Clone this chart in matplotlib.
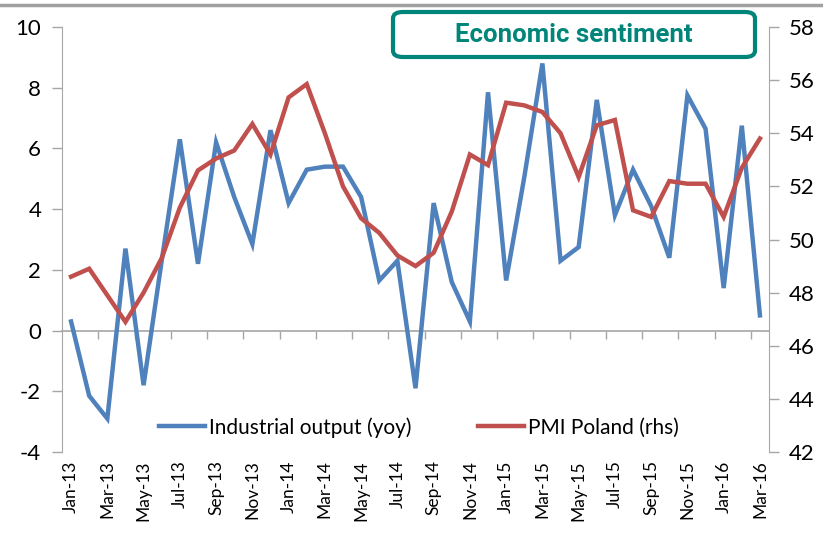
import matplotlib.pyplot as plt
from matplotlib.patches import FancyBboxPatch
from matplotlib.lines import Line2D

# ================================
# Data
# ================================
months = [
    "Jan-13", "Feb-13", "Mar-13", "Apr-13", "May-13", "Jun-13", "Jul-13", "Aug-13",
    "Sep-13", "Oct-13", "Nov-13", "Dec-13", "Jan-14", "Feb-14", "Mar-14", "Apr-14",
    "May-14", "Jun-14", "Jul-14", "Aug-14", "Sep-14", "Oct-14", "Nov-14", "Dec-14",
    "Jan-15", "Feb-15", "Mar-15", "Apr-15", "May-15", "Jun-15", "Jul-15", "Aug-15",
    "Sep-15", "Oct-15", "Nov-15", "Dec-15", "Jan-16", "Feb-16", "Mar-16",
]

industrial_output = [
    0.3, -2.15, -2.9, 2.7, -1.8, 2.3, 6.3, 2.2, 6.2, 4.4, 2.85, 6.6,
    4.2, 5.3, 5.4, 5.4, 4.4, 1.65, 2.3, -1.9, 4.2, 1.6, 0.3, 7.85,
    1.65, 5.05, 8.8, 2.3, 2.75, 7.6, 3.8, 5.3, 4.1, 2.4, 7.75, 6.65,
    1.4, 6.75, 0.5,
]

pmi_poland = [
    48.6, 48.9, 47.9, 46.9, 48.0, 49.3, 51.2, 52.6, 53.05, 53.35, 54.35, 53.2,
    55.35, 55.85, 54.0, 52.0, 50.8, 50.25, 49.4, 49.0, 49.5, 51.05, 53.2, 52.8,
    55.15, 55.05, 54.8, 54.0, 52.35, 54.3, 54.5, 51.1, 50.85, 52.2, 52.1, 52.1,
    50.85, 52.7, 53.8,
]

BLUE = "#4F81BD"
RED = "#C0504D"
GRAY = "#A6A6A6"
TEAL = "#00857A"

plt.rcParams["font.family"] = ["Lato", "DejaVu Sans"]
plt.rcParams["axes.unicode_minus"] = False

fig = plt.figure(figsize=(8.23, 5.33), dpi=100)
ax = fig.add_axes([62 / 823, 1 - 452 / 533, (769 - 62) / 823, (452 - 27) / 533])
ax2 = ax.twinx()

x = list(range(len(months)))
ax.plot(x, industrial_output, color=BLUE, linewidth=3.2, label="Industrial output (yoy)",
        solid_joinstyle="miter", zorder=3)
ax2.plot(x, pmi_poland, color=RED, linewidth=3.2, label="PMI Poland (rhs)",
         solid_joinstyle="miter", zorder=3)

ymin, ymax = -4, 10
ax.set_xlim(-0.5, len(months) - 0.5)
ax.set_ylim(ymin, ymax)
ax2.set_ylim(42, 58)
ax.set_yticks(range(-4, 11, 2))
ax2.set_yticks(range(42, 59, 2))

for a in (ax, ax2):
    a.spines["top"].set_visible(False)
    a.spines["bottom"].set_visible(False)
    a.spines["left"].set_color(GRAY)
    a.spines["right"].set_color(GRAY)
ax.spines["right"].set_visible(False)
ax2.spines["left"].set_visible(False)

ax.tick_params(axis="y", length=7, width=1, color=GRAY, labelsize=16, pad=8)
ax2.tick_params(axis="y", length=7, width=1, color=GRAY, labelsize=16, pad=7)

# category labels at the bottom, every second month
ax.set_xticks(x[::2], months[::2])
ax.tick_params(axis="x", length=0, labelsize=12.5, rotation=90, pad=6)

# category axis crossing at zero, tick marks every two months
zero_pos = (0 - ymin) / (ymax - ymin)
sec = ax.secondary_xaxis(zero_pos)
sec.set_xticks([i - 0.5 for i in x[::2]][1:], [])
sec.tick_params(axis="x", length=6, width=1, color=GRAY)
sec.spines["bottom"].set_color(GRAY)
sec.spines["bottom"].set_linewidth(1.2)

# legend
h1, l1 = ax.get_legend_handles_labels()
h2, l2 = ax2.get_legend_handles_labels()
ax2.legend(h1 + h2, l1 + l2, loc="center", bbox_to_anchor=(0.505, 0.058), ncol=2,
           frameon=False, fontsize=15, handlelength=2.2, handletextpad=0.2,
           columnspacing=3.2)

# top rule
fig.add_artist(Line2D([0, 1], [1 - 5 / 533, 1 - 5 / 533], transform=fig.transFigure,
                      color="#A0A0A0", linewidth=2.5))

# title box
box = FancyBboxPatch((393 / 823, 1 - 57 / 533), (755 - 393) / 823, (57 - 12) / 533,
                     boxstyle="round,pad=0,rounding_size=0.012",
                     transform=fig.transFigure, facecolor="white", edgecolor=TEAL,
                     linewidth=3, zorder=5)
fig.add_artist(box)
fig.text(574 / 823, 1 - 35 / 533, "Economic sentiment", color=TEAL, fontsize=18.5,
         fontweight="bold", ha="center", va="center", zorder=6,
         family=["Roboto", "DejaVu Sans"])

fig.savefig("out.png", dpi=100)
